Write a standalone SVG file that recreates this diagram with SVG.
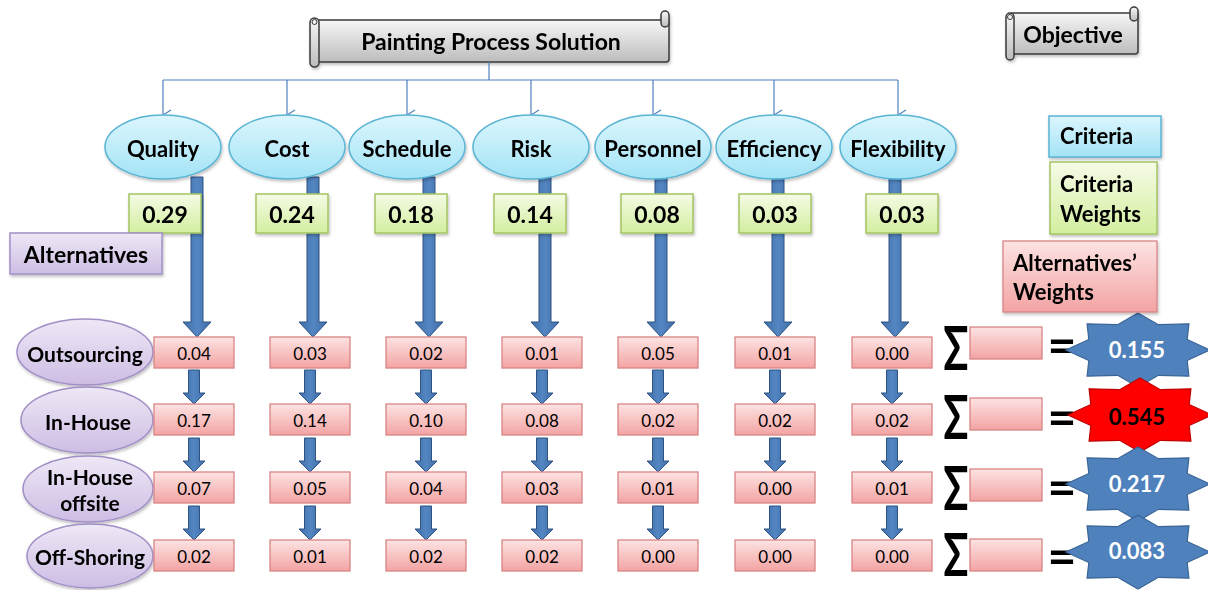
<svg xmlns="http://www.w3.org/2000/svg" width="1208" height="590" viewBox="0 0 1208 590">
<defs>
<linearGradient id="gGray" x1="0" y1="0" x2="0" y2="1"><stop offset="0" stop-color="#f7f7f7"/><stop offset="1" stop-color="#bcbcbc"/></linearGradient>
<linearGradient id="gCyan" x1="0" y1="0" x2="0" y2="1"><stop offset="0" stop-color="#dcf6fd"/><stop offset="1" stop-color="#a3e3f6"/></linearGradient>
<linearGradient id="gGreen" x1="0" y1="0" x2="0" y2="1"><stop offset="0" stop-color="#f5fbe6"/><stop offset="1" stop-color="#d3ee9f"/></linearGradient>
<linearGradient id="gPurple" x1="0" y1="0" x2="0" y2="1"><stop offset="0" stop-color="#eee8f6"/><stop offset="1" stop-color="#cdbde4"/></linearGradient>
<linearGradient id="gPink" x1="0" y1="0" x2="0" y2="1"><stop offset="0" stop-color="#fde3e3"/><stop offset="1" stop-color="#f3a3a3"/></linearGradient>
<linearGradient id="gBlue" x1="0" y1="0" x2="1" y2="0"><stop offset="0" stop-color="#3f6fa9"/><stop offset="0.5" stop-color="#5486c2"/><stop offset="1" stop-color="#3f6fa9"/></linearGradient>
<filter id="sh" x="-10%" y="-10%" width="130%" height="140%"><feDropShadow dx="1" dy="2" stdDeviation="1.5" flood-color="#000" flood-opacity="0.25"/></filter>
<marker id="vArrow" viewBox="0 0 12 12" refX="6" refY="11" markerWidth="12" markerHeight="12" markerUnits="userSpaceOnUse" orient="auto-start-reverse">
<path d="M1,3 L6,11 L11,3" fill="none" stroke="#4f81bd" stroke-width="1.2"/>
</marker>
<path id="bigArrow" d="M-6,0 H6 V145 H14 L0,160 L-14,145 H-6 Z"/>
<path id="smallArrow" d="M-5.5,0 H5.5 V23 H11 L0,34 L-11,23 H-5.5 Z"/>
<path id="star" d="M0,-37 L20.4,-25.3 L50.9,-26.2 L49.2,-10.5 L72,0 L49.2,10.5 L50.9,26.2 L20.4,25.3 L0,37 L-20.4,25.3 L-50.9,26.2 L-49.2,10.5 L-72,0 L-49.2,-10.5 L-50.9,-26.2 L-20.4,-25.3 Z"/>
</defs>
<style>
text{font-family:Lato,"Liberation Sans",sans-serif;fill:#000}
.b{font-weight:bold}
.c{text-anchor:middle;dominant-baseline:central}
.scroll{fill:url(#gGray);stroke:#3a3a3a;stroke-width:1.5}
.crit{fill:url(#gCyan);stroke:#5ab4d4;stroke-width:1.5}
.cw{fill:url(#gGreen);stroke:#a4c563;stroke-width:1.5}
.alt{fill:url(#gPurple);stroke:#a28fc6;stroke-width:1.5}
.aw{fill:url(#gPink);stroke:#d98585;stroke-width:1.3}
.conn{fill:none;stroke:#4f81bd;stroke-width:1.2}
.arrow{fill:url(#gBlue);stroke:#2e5283;stroke-width:1}
.t23{font-size:23px}
.t22{font-size:22px}
.t21{font-size:21px}
.t17{font-size:17px}
.sig{font-size:36px;font-weight:bold;text-anchor:middle;dominant-baseline:central}
.eq{font-size:50px;font-weight:bold;text-anchor:middle;dominant-baseline:central}
.starB{fill:#4f81bd;stroke:#3a6596;stroke-width:1.2}
.starR{fill:#ff0000;stroke:#c00000;stroke-width:1.2}
</style>
<rect width="1208" height="590" fill="#fff"/>

<!-- Objective scroll (legend) -->
<g id="objective" filter="url(#sh)">
<rect class="scroll" x="1010" y="13" width="128" height="41" rx="3"/>
<rect class="scroll" x="1130" y="7" width="8" height="14" rx="4"/>
<rect class="scroll" x="1006" y="13" width="8" height="47" rx="4"/>
<circle cx="1010" cy="17" r="2.5" fill="none" stroke="#3a3a3a" stroke-width="1"/>
<text class="b c t23" x="1073" y="34">Objective</text>
</g>

<!-- Title scroll -->
<g id="title" filter="url(#sh)">
<rect class="scroll" x="314" y="20" width="355" height="42" rx="3"/>
<rect class="scroll" x="661" y="11" width="8" height="16" rx="4"/>
<rect class="scroll" x="310" y="18" width="9" height="49" rx="4.5"/>
<circle cx="314.5" cy="22" r="2.5" fill="none" stroke="#3a3a3a" stroke-width="1"/>
<text class="b c t23" x="491" y="41">Painting Process Solution</text>
</g>

<!-- connectors -->
<g id="connectors">
<path class="conn" d="M489,62 V80"/>
<path class="conn" d="M163,80 H898"/>
<path class="conn" d="M163,80 V115" marker-end="url(#vArrow)"/>
<path class="conn" d="M287,80 V115" marker-end="url(#vArrow)"/>
<path class="conn" d="M407,80 V115" marker-end="url(#vArrow)"/>
<path class="conn" d="M531,80 V115" marker-end="url(#vArrow)"/>
<path class="conn" d="M653,80 V115" marker-end="url(#vArrow)"/>
<path class="conn" d="M774,80 V115" marker-end="url(#vArrow)"/>
<path class="conn" d="M898,80 V115" marker-end="url(#vArrow)"/>
<!-- big arrows criteria -> alternatives -->
<use href="#bigArrow" class="arrow" x="197" y="177"/>
<use href="#bigArrow" class="arrow" x="313" y="177"/>
<use href="#bigArrow" class="arrow" x="429" y="177"/>
<use href="#bigArrow" class="arrow" x="545" y="177"/>
<use href="#bigArrow" class="arrow" x="661" y="177"/>
<use href="#bigArrow" class="arrow" x="778" y="177"/>
<use href="#bigArrow" class="arrow" x="895" y="177"/>
<!-- small arrows between rows -->
<g id="smallArrows">
<use href="#smallArrow" class="arrow" x="194" y="370"/><use href="#smallArrow" class="arrow" x="194" y="438"/><use href="#smallArrow" class="arrow" x="194" y="506"/>
<use href="#smallArrow" class="arrow" x="310" y="370"/><use href="#smallArrow" class="arrow" x="310" y="438"/><use href="#smallArrow" class="arrow" x="310" y="506"/>
<use href="#smallArrow" class="arrow" x="426" y="370"/><use href="#smallArrow" class="arrow" x="426" y="438"/><use href="#smallArrow" class="arrow" x="426" y="506"/>
<use href="#smallArrow" class="arrow" x="542" y="370"/><use href="#smallArrow" class="arrow" x="542" y="438"/><use href="#smallArrow" class="arrow" x="542" y="506"/>
<use href="#smallArrow" class="arrow" x="658" y="370"/><use href="#smallArrow" class="arrow" x="658" y="438"/><use href="#smallArrow" class="arrow" x="658" y="506"/>
<use href="#smallArrow" class="arrow" x="775" y="370"/><use href="#smallArrow" class="arrow" x="775" y="438"/><use href="#smallArrow" class="arrow" x="775" y="506"/>
<use href="#smallArrow" class="arrow" x="892" y="370"/><use href="#smallArrow" class="arrow" x="892" y="438"/><use href="#smallArrow" class="arrow" x="892" y="506"/>
</g>
</g>

<!-- Criteria -->
<g id="crit-quality" filter="url(#sh)"><ellipse class="crit" cx="163" cy="147" rx="58" ry="32"/><text class="b c t22" x="163" y="148">Quality</text></g>
<g id="crit-cost" filter="url(#sh)"><ellipse class="crit" cx="287" cy="147" rx="58" ry="32"/><text class="b c t22" x="287" y="148">Cost</text></g>
<g id="crit-schedule" filter="url(#sh)"><ellipse class="crit" cx="407" cy="147" rx="58" ry="32"/><text class="b c t22" x="407" y="148">Schedule</text></g>
<g id="crit-risk" filter="url(#sh)"><ellipse class="crit" cx="531" cy="147" rx="58" ry="32"/><text class="b c t22" x="531" y="148">Risk</text></g>
<g id="crit-personnel" filter="url(#sh)"><ellipse class="crit" cx="653" cy="147" rx="58" ry="32"/><text class="b c t22" x="653" y="148">Personnel</text></g>
<g id="crit-efficiency" filter="url(#sh)"><ellipse class="crit" cx="774" cy="147" rx="58" ry="32"/><text class="b c t22" x="774" y="148">Efficiency</text></g>
<g id="crit-flexibility" filter="url(#sh)"><ellipse class="crit" cx="898" cy="147" rx="58" ry="32"/><text class="b c t22" x="898" y="148">Flexibility</text></g>

<!-- Criteria weights -->
<g id="cw-quality" filter="url(#sh)"><rect class="cw" x="129" y="194" width="72" height="39"/><text class="b c t23" x="165" y="214">0.29</text></g>
<g id="cw-cost" filter="url(#sh)"><rect class="cw" x="256" y="194" width="72" height="39"/><text class="b c t23" x="292" y="214">0.24</text></g>
<g id="cw-schedule" filter="url(#sh)"><rect class="cw" x="375" y="194" width="72" height="39"/><text class="b c t23" x="411" y="214">0.18</text></g>
<g id="cw-risk" filter="url(#sh)"><rect class="cw" x="494" y="194" width="72" height="39"/><text class="b c t23" x="530" y="214">0.14</text></g>
<g id="cw-personnel" filter="url(#sh)"><rect class="cw" x="621" y="194" width="72" height="39"/><text class="b c t23" x="657" y="214">0.08</text></g>
<g id="cw-efficiency" filter="url(#sh)"><rect class="cw" x="739" y="194" width="72" height="39"/><text class="b c t23" x="775" y="214">0.03</text></g>
<g id="cw-flexibility" filter="url(#sh)"><rect class="cw" x="866" y="194" width="72" height="39"/><text class="b c t23" x="902" y="214">0.03</text></g>

<!-- Alternatives label -->
<g id="alternatives-label" filter="url(#sh)"><rect class="alt" x="10" y="233" width="152" height="41"/><text class="b c t23" x="86" y="254">Alternatives</text></g>

<!-- Alternatives -->
<g id="alt-outsourcing" filter="url(#sh)"><ellipse class="alt" cx="85" cy="352" rx="68" ry="33"/><text class="b c t21" x="85" y="353">Outsourcing</text></g>
<g id="alt-inhouse" filter="url(#sh)"><ellipse class="alt" cx="87" cy="420" rx="66" ry="33"/><text class="b c t21" x="88" y="421">In-House</text></g>
<g id="alt-offsite" filter="url(#sh)"><ellipse class="alt" cx="88" cy="489" rx="65" ry="33"/><text class="b c t21" x="90" y="476">In-House</text><text class="b c t21" x="90" y="502">offsite</text></g>
<g id="alt-offshoring" filter="url(#sh)"><ellipse class="alt" cx="90" cy="556" rx="63" ry="32"/><text class="b c t21" x="90" y="556">Off-Shoring</text></g>

<!-- Alternatives' weights -->
<g id="aw-row1">
<rect class="aw" x="154" y="337" width="80" height="31"/><text class="c t17" x="194" y="353">0.04</text>
<rect class="aw" x="270" y="337" width="80" height="31"/><text class="c t17" x="310" y="353">0.03</text>
<rect class="aw" x="386" y="337" width="80" height="31"/><text class="c t17" x="426" y="353">0.02</text>
<rect class="aw" x="502" y="337" width="80" height="31"/><text class="c t17" x="542" y="353">0.01</text>
<rect class="aw" x="618" y="337" width="80" height="31"/><text class="c t17" x="658" y="353">0.05</text>
<rect class="aw" x="735" y="337" width="80" height="31"/><text class="c t17" x="775" y="353">0.01</text>
<rect class="aw" x="852" y="337" width="80" height="31"/><text class="c t17" x="892" y="353">0.00</text>
</g>
<g id="aw-row2">
<rect class="aw" x="154" y="404" width="80" height="31"/><text class="c t17" x="194" y="420">0.17</text>
<rect class="aw" x="270" y="404" width="80" height="31"/><text class="c t17" x="310" y="420">0.14</text>
<rect class="aw" x="386" y="404" width="80" height="31"/><text class="c t17" x="426" y="420">0.10</text>
<rect class="aw" x="502" y="404" width="80" height="31"/><text class="c t17" x="542" y="420">0.08</text>
<rect class="aw" x="618" y="404" width="80" height="31"/><text class="c t17" x="658" y="420">0.02</text>
<rect class="aw" x="735" y="404" width="80" height="31"/><text class="c t17" x="775" y="420">0.02</text>
<rect class="aw" x="852" y="404" width="80" height="31"/><text class="c t17" x="892" y="420">0.02</text>
</g>
<g id="aw-row3">
<rect class="aw" x="154" y="472" width="80" height="31"/><text class="c t17" x="194" y="488">0.07</text>
<rect class="aw" x="270" y="472" width="80" height="31"/><text class="c t17" x="310" y="488">0.05</text>
<rect class="aw" x="386" y="472" width="80" height="31"/><text class="c t17" x="426" y="488">0.04</text>
<rect class="aw" x="502" y="472" width="80" height="31"/><text class="c t17" x="542" y="488">0.03</text>
<rect class="aw" x="618" y="472" width="80" height="31"/><text class="c t17" x="658" y="488">0.01</text>
<rect class="aw" x="735" y="472" width="80" height="31"/><text class="c t17" x="775" y="488">0.00</text>
<rect class="aw" x="852" y="472" width="80" height="31"/><text class="c t17" x="892" y="488">0.01</text>
</g>
<g id="aw-row4">
<rect class="aw" x="154" y="540" width="80" height="31"/><text class="c t17" x="194" y="556">0.02</text>
<rect class="aw" x="270" y="540" width="80" height="31"/><text class="c t17" x="310" y="556">0.01</text>
<rect class="aw" x="386" y="540" width="80" height="31"/><text class="c t17" x="426" y="556">0.02</text>
<rect class="aw" x="502" y="540" width="80" height="31"/><text class="c t17" x="542" y="556">0.02</text>
<rect class="aw" x="618" y="540" width="80" height="31"/><text class="c t17" x="658" y="556">0.00</text>
<rect class="aw" x="735" y="540" width="80" height="31"/><text class="c t17" x="775" y="556">0.00</text>
<rect class="aw" x="852" y="540" width="80" height="31"/><text class="c t17" x="892" y="556">0.00</text>
</g>

<!-- Sums -->
<g id="sum-row1">
<text class="sig" transform="translate(956,346) scale(1.15,1.7)">Σ</text>
<rect class="aw" x="970" y="327" width="72" height="32"/>
<text class="eq" x="1062" y="344">=</text>
<use href="#star" class="starB" x="1138" y="350"/>
<text class="b c t22" x="1137" y="349" style="fill:#fff">0.155</text>
</g>
<g id="sum-row2">
<text class="sig" transform="translate(956,415) scale(1.15,1.7)">Σ</text>
<rect class="aw" x="970" y="398" width="72" height="32"/>
<text class="eq" x="1062" y="416">=</text>
<use href="#star" class="starR" x="1140" y="415"/>
<text class="b c t22" x="1137" y="416">0.545</text>
</g>
<g id="sum-row3">
<text class="sig" transform="translate(956,486) scale(1.15,1.7)">Σ</text>
<rect class="aw" x="970" y="469" width="72" height="32"/>
<text class="eq" x="1062" y="486">=</text>
<use href="#star" class="starB" x="1138" y="484"/>
<text class="b c t22" x="1137" y="483" style="fill:#fff">0.217</text>
</g>
<g id="sum-row4">
<text class="sig" transform="translate(956,553) scale(1.15,1.65)">Σ</text>
<rect class="aw" x="970" y="539" width="72" height="32"/>
<text class="eq" x="1062" y="555">=</text>
<use href="#star" class="starB" x="1138" y="552"/>
<text class="b c t22" x="1137" y="550" style="fill:#fff">0.083</text>
</g>

<!-- Legend -->
<g id="legend-criteria" filter="url(#sh)"><rect class="crit" x="1049" y="116" width="112" height="41"/><text class="b t22" x="1060" y="144">Criteria</text></g>
<g id="legend-criteria-weights" filter="url(#sh)"><rect class="cw" x="1050" y="162" width="107" height="72"/><text class="b t22" x="1060" y="192">Criteria</text><text class="b t22" x="1060" y="222">Weights</text></g>
<g id="legend-alt-weights" filter="url(#sh)"><rect class="aw" x="1003" y="241" width="154" height="71"/><text class="b t22" x="1013" y="271">Alternatives’</text><text class="b t22" x="1013" y="300">Weights</text></g>
</svg>
